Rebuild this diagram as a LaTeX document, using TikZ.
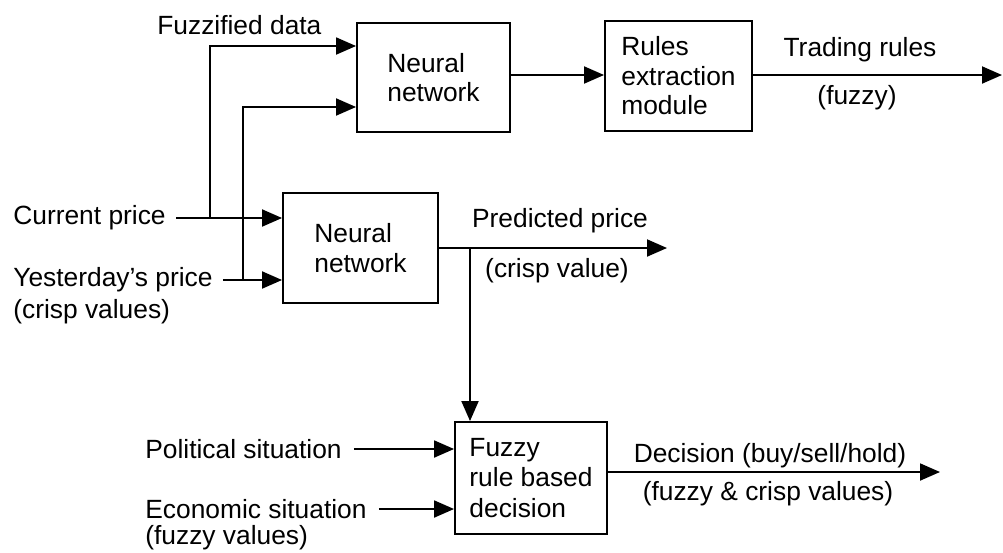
\documentclass[tikz,border=0pt]{standalone}
\usepackage{fontspec}
\setmainfont{Liberation Sans}
\usetikzlibrary{arrows.meta,positioning}

\begin{document}
\begin{tikzpicture}[x=0.02cm,y=-0.02cm,
  box/.style={draw,line width=1.1pt,align=left,font=\fontsize{15}{16.8}\selectfont,inner sep=0pt},
  lbl/.style={font=\fontsize{15}{16.8}\selectfont,inner sep=0pt},
  arr/.style={-{Triangle[length=0.4cm,width=0.34cm]},line width=1.1pt}]
  \useasboundingbox (0,0) rectangle (1003,552);
  % blocks
  \node[box,minimum width=3.06cm,minimum height=2.18cm] (nn1) at (433.5,77.5) {Neural\\network};
  \node[box,minimum width=2.94cm,minimum height=2.2cm] (rem) at (678.5,76) {Rules\\extraction\\module};
  \node[box,minimum width=3.1cm,minimum height=2.2cm] (nn2) at (360.5,248) {Neural\\network};
  \node[box,minimum width=3.04cm,minimum height=2.24cm,font=\fontsize{15}{17.6}\selectfont] (frd) at (531,478) {Fuzzy\\rule based\\decision};
  % inputs
  \node[lbl,anchor=west] (cur) at (13,218) {Current price};
  \node[lbl,anchor=west] (yest) at (13,280) {Yesterday's price};
  \node[lbl,anchor=north west] (crv) at ([yshift=-0.12cm]yest.south west) {(crisp values)};
  \node[lbl,anchor=west] (fzd) at (157,25) {Fuzzified data};
  \node[lbl,anchor=west] (pol) at (145,449) {Political situation};
  \node[lbl,anchor=west] (eco) at (145,509) {Economic situation};
  \node[lbl,anchor=north west] (fzv) at ([yshift=-0.12cm]eco.south west) {(fuzzy values)};
  % output labels
  \node[lbl] (trl) at (860,50) {Trading rules};
  \node[lbl] (fzy) at (857,98) {(fuzzy)};
  \node[lbl] (ppr) at (560,221) {Predicted price};
  \node[lbl] (cpv) at (557,271) {(crisp value)};
  \node[lbl] (dec) at (770,456) {Decision (buy/sell/hold)};
  \node[lbl] (fcv) at (768,494) {(fuzzy \& crisp values)};
  % junctions
  \coordinate (bc) at (210,218);
  \coordinate (by) at (243,280);
  \coordinate (bp) at (470,248);
  \coordinate (tr) at (1002,75);
  \coordinate (pp) at (667,248);
  \coordinate (dc) at (940,472);
  % connectors
  \draw[arr] ([xshift=0.2cm]cur.east) -- (nn2.west |- cur.east);
  \draw[arr] ([xshift=0.2cm]yest.east) -- (nn2.west |- yest.east);
  \draw[arr] (bc) |- ([yshift=0.63cm]nn1.west);
  \draw[arr] (by) |- ([yshift=-0.59cm]nn1.west);
  \draw[arr] (nn1.east |- tr) -- (rem.west |- tr);
  \draw[arr] (rem.east |- tr) -- (tr);
  \draw[arr] (nn2.east) -- (pp);
  \draw[arr] (bp) -- (bp |- frd.north);
  \draw[arr] ([xshift=0.24cm]pol.east) -- (frd.west |- pol.east);
  \draw[arr] ([xshift=0.24cm]eco.east) -- (frd.west |- eco.east);
  \draw[arr] (frd.east |- dc) -- (dc);
\end{tikzpicture}
\end{document}
